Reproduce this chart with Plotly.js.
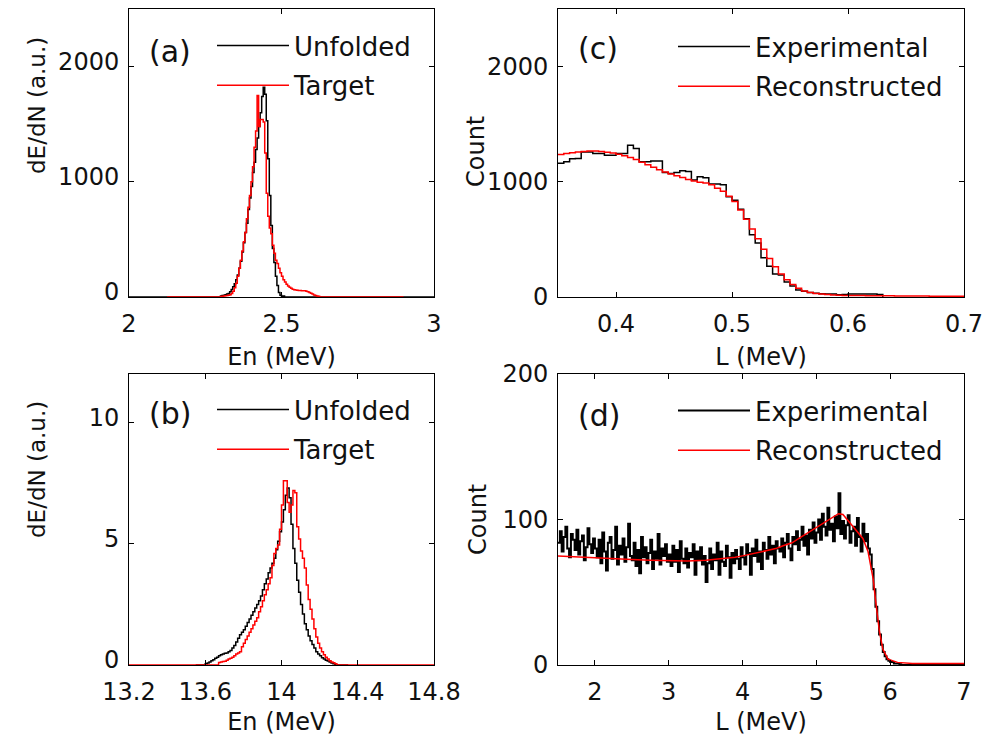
<!DOCTYPE html>
<html><head><meta charset="utf-8">
<script src="https://cdn.plot.ly/plotly-3.0.1.min.js"></script>
<style>html,body{margin:0;padding:0;background:#fff}#chart{width:996px;height:736px}</style>
</head><body><div id="chart"></div>
<script>
// ---------------- DATA ----------------
// (a) En around 2.45 MeV, bins of 0.005 MeV
const aBinStart = 2.300, aBinWidth = 0.005;
const aUnfolded = [8,12,15,20,25,30,45,65,90,115,150,190,250,310,390,470,560,640,760,860,
  960,1080,1170,1280,1380,1480,1600,1740,1821,1760,1530,1200,880,620,420,300,180,100,40,15,5,8];
const aTarget = [5,6,8,10,12,15,20,30,50,80,120,180,250,320,400,480,560,680,780,880,
  1000,1130,1300,1440,1749,1480,1540,1540,1520,1250,900,700,600,550,450,380,320,290,250,210,
  180,150,130,110,95,85,75,68,62,60,58,57,56,55,55,54,50,45,38,32,25,18,12,8,6];
const aUnfoldedSpan = [2.0, 3.0];
const aTargetSpan = [2.125, 2.9];

// (b) En around 14 MeV, bins of 0.01 MeV
const bBinWidth = 0.01;
const bUnfoldedStart = 13.60;
const bUnfolded = [0.05,0.08,0.12,0.18,0.22,0.28,0.32,0.38,0.42,0.45,
  0.48,0.5,0.55,0.6,0.7,0.8,0.95,1.1,1.25,1.35,
  1.45,1.6,1.75,1.9,2.05,2.2,2.35,2.5,2.65,2.85,
  3.1,3.35,3.55,3.8,4.0,4.2,4.4,4.75,5.1,5.5,
  5.9,6.4,7.0,7.3,6.9,5.8,4.8,4.2,3.5,3.0,
  2.5,2.1,1.7,1.45,1.2,1.0,0.85,0.7,0.55,0.45,
  0.38,0.3,0.25,0.2,0.16,0.12,0.08,0.05,0.02];
const bTargetStart = 13.67;
const bTarget = [0.1,0.12,0.14,0.15,0.2,0.25,0.28,0.32,0.38,0.45,
  0.5,0.55,0.75,0.9,1.05,1.2,1.35,1.5,1.65,1.8,
  1.95,2.2,2.4,2.65,2.9,3.1,3.35,3.6,4.1,4.6,
  4.8,4.95,5.6,6.6,7.6,7.6,6.7,6.3,6.6,7.2,
  7.1,5.7,5.2,4.7,4.4,4.0,3.3,2.7,2.3,1.9,
  1.5,1.15,0.9,0.7,0.55,0.42,0.32,0.25,0.18,0.12,
  0.09,0.05];
const bUnfoldedSpan = [13.55, 14.35];
const bTargetSpan = [13.2, 14.8];

// (c) L spectrum 0.35-0.7 MeV, bins of 0.005 MeV
const cBinStart = 0.350, cBinWidth = 0.005;
const cExperimental = [1162,1173,1200,1202,1259,1259,1245,1245,1231,1231,
  1245,1245,1317,1288,1173,1173,1180,1180,1080,1073,
  1080,1096,1090,1015,1044,1036,981,981,975,870,
  840,761,680,541,469,340,267,200,190,130,
  95,60,50,40,32,28,25,25,20,22,
  25,25,25,25,25,22];
const cReconstructed = [1236,1245,1252,1258,1263,1267,1268,1264,1257,1249,
  1240,1226,1210,1193,1170,1147,1126,1105,1085,1068,
  1052,1037,1021,1008,997,989,975,945,918,875,
  830,755,675,590,505,415,335,262,200,150,
  108,75,52,40,31,26,21,18,16,14,
  13,12,12,11,11,10,10,10,9,9,
  9,8,8,8,7,7,7,6,6,6];

// (d) L spectrum 1.5-7 MeV, bins of 0.025 MeV
const dBinStart = 1.5, dBinWidth = 0.025;
const dExperimental = [
  84,92,78,88,95,80,74,90,86,79,93,76,85,89,72,81,94,83,77,87,
  80,74,86,70,91,78,65,84,88,73,79,95,69,82,76,87,71,81,97,75,
  72,84,68,79,63,88,74,81,70,77,86,66,78,73,90,69,80,75,83,71,
  76,68,82,71,79,64,85,73,70,80,67,77,74,83,62,78,72,81,69,75,
  57,70,80,66,76,72,84,62,78,71,68,82,74,60,77,70,79,73,66,81,
  74,69,83,77,62,80,75,86,71,78,66,84,79,73,88,76,82,70,85,80,
  78,87,74,84,90,80,72,88,83,92,79,86,95,82,89,76,93,87,98,84,
  91,100,86,104,95,89,108,93,97,85,102,94,118,90,99,87,96,103,84,92,
  95,82,101,88,78,97,85,90,80,76,66,52,40,30,21,14,9,6,4,3,
  2,2,1,1,1,0.5,0,0];
const dExperimentalSpan = [1.5, 7.0];
const dRecL = [1.5,1.75,2.0,2.25,2.5,2.75,3.0,3.25,3.5,3.75,
  3.9,4.0,4.1,4.22,4.35,4.45,4.55,4.67,4.78,4.89,
  5.0,5.12,5.22,5.3,5.36,5.45,5.55,5.63,5.7,5.77,
  5.81,5.855,5.9,5.97,6.1,6.3,7.0];
const dRecCount = [75,74.5,74,73.5,72.5,72,71.5,71.5,72,73,
  74,75,76,77.5,79,80,82,84,87.5,91,
  94.5,98,101,104,103.5,98,92,87,78,59,
  41,23,11,4,1.8,1,1];

// ---------------- HELPERS ----------------
const W = 996, H = 736;
const px = v => v / W;
const py = v => 1 - v / H;

function stepXY(start, width, vals, span) {
  const x = [], y = [];
  if (span && span[0] < start) { x.push(span[0]); y.push(0); }
  vals.forEach((v, i) => { x.push(+(start + i * width).toFixed(5)); y.push(v); });
  const end = +(start + vals.length * width).toFixed(5);
  x.push(end); y.push(0);
  if (span && span[1] > end) { x.push(span[1]); y.push(0); }
  return {x, y};
}

const BLACK = '#000000', RED = '#ff0000';
function stepTrace(xy, name, color, xa, ya, leg, grp, w) {
  return {type: 'scatter', mode: 'lines', x: xy.x, y: xy.y, name: name,
    line: {color: color, width: w || 1.5, shape: 'hv'}, xaxis: xa, yaxis: ya,
    legend: leg, legendgroup: grp, hoverinfo: 'skip'};
}

const aU = stepXY(aBinStart, aBinWidth, aUnfolded, aUnfoldedSpan);
const aT = stepXY(aBinStart, aBinWidth, aTarget, aTargetSpan);
const bU = stepXY(bUnfoldedStart, bBinWidth, bUnfolded, bUnfoldedSpan);
const bT = stepXY(bTargetStart, bBinWidth, bTarget, bTargetSpan);
const cE = stepXY(cBinStart, cBinWidth, cExperimental, null);
const cR = stepXY(cBinStart, cBinWidth, cReconstructed, null);
const dE = stepXY(dBinStart, dBinWidth, dExperimental, dExperimentalSpan);

const traces = [
  stepTrace(aU, 'Unfolded', BLACK, 'x', 'y', 'legend', 'a1'),
  stepTrace(aT, 'Target', RED, 'x', 'y', 'legend', 'a2'),
  stepTrace(cE, 'Experimental', BLACK, 'x2', 'y2', 'legend2', 'c1'),
  stepTrace(cR, 'Reconstructed', RED, 'x2', 'y2', 'legend2', 'c2'),
  stepTrace(bU, 'Unfolded', BLACK, 'x3', 'y3', 'legend3', 'b1'),
  stepTrace(bT, 'Target', RED, 'x3', 'y3', 'legend3', 'b2'),
  stepTrace(dE, 'Experimental', BLACK, 'x4', 'y4', 'legend4', 'd1', 2),
  {type: 'scatter', mode: 'lines', x: dRecL, y: dRecCount, name: 'Reconstructed',
   line: {color: RED, width: 1.5}, xaxis: 'x4', yaxis: 'y4', legend: 'legend4',
   legendgroup: 'd2', hoverinfo: 'skip'}
];

const FONT = 'DejaVu Sans, sans-serif';
const TXT = '#111111';
function axis(extra) {
  return Object.assign({
    showline: true, linecolor: '#000', linewidth: 1, mirror: 'allticks',
    ticks: 'inside', ticklen: 5, tickcolor: '#000', tickwidth: 1,
    showgrid: false, zeroline: false, fixedrange: true,
    tickfont: {family: FONT, size: 24, color: TXT}
  }, extra);
}
const xDomL = [px(129), px(434)], xDomR = [px(558), px(964)];
const yDomT = [py(297), py(9)], yDomB = [py(665), py(374)];
const xTitle = t => ({text: t, font: {family: FONT, size: 24, color: TXT}, standoff: 11});

function legendAt(xPix, yPix) {
  return {x: px(xPix), y: py(yPix), xanchor: 'left', yanchor: 'top',
    bgcolor: 'rgba(0,0,0,0)', borderwidth: 0, itemwidth: 72,
    traceorder: 'grouped', tracegroupgap: 3,
    font: {family: FONT, size: 26, color: TXT}, itemclick: false, itemdoubleclick: false};
}

function ann(text, xPix, yPix, size, angle) {
  return {text: text, x: px(xPix), y: py(yPix), xref: 'paper', yref: 'paper',
    xanchor: 'center', yanchor: 'middle', showarrow: false, textangle: angle || 0,
    font: {family: FONT, size: size, color: TXT}};
}

const layout = {
  width: W, height: H, margin: {l: 0, r: 0, t: 0, b: 0},
  paper_bgcolor: '#fff', plot_bgcolor: '#fff', showlegend: true,
  xaxis: axis({domain: xDomL, anchor: 'y', range: [2, 3], tickvals: [2, 2.5, 3], ticktext: ['2', '2.5', '3'], title: xTitle('En (MeV)'), ticklabelstandoff: 5}),
  yaxis: axis({domain: yDomT, anchor: 'x', range: [0, 2500], tickvals: [0, 1000, 2000], ticklabelstandoff: 4, ticklabelshift: -5}),
  xaxis2: axis({domain: xDomR, anchor: 'y2', range: [0.35, 0.7], tickvals: [0.4, 0.5, 0.6, 0.7], ticktext: ['0.4', '0.5', '0.6', '0.7'], title: xTitle('L (MeV)'), ticklabelstandoff: 5}),
  yaxis2: axis({domain: yDomT, anchor: 'x2', range: [0, 2500], tickvals: [0, 1000, 2000], ticklabelstandoff: 4}),
  xaxis3: axis({domain: xDomL, anchor: 'y3', range: [13.2, 14.8], tickvals: [13.2, 13.6, 14, 14.4, 14.8], ticktext: ['13.2', '13.6', '14', '14.4', '14.8'], title: xTitle('En (MeV)'), ticklabelstandoff: 5}),
  yaxis3: axis({domain: yDomB, anchor: 'x3', range: [0, 12], tickvals: [0, 5, 10], ticklabelstandoff: 4, ticklabelshift: -5}),
  xaxis4: axis({domain: xDomR, anchor: 'y4', range: [1.5, 7], tickvals: [2, 3, 4, 5, 6, 7], title: xTitle('L (MeV)'), ticklabelstandoff: 5}),
  yaxis4: axis({domain: yDomB, anchor: 'x4', range: [0, 200], tickvals: [0, 100, 200], ticklabelstandoff: 4}),
  legend: legendAt(212, 22),
  legend2: legendAt(673, 23),
  legend3: legendAt(212, 386),
  legend4: legendAt(673, 387),
  annotations: [
    ann('(a)', 170, 52, 30), ann('(c)', 598, 49, 30),
    ann('(b)', 170, 413, 30), ann('(d)', 599, 416, 30),
    ann('dE/dN (a.u.)', 37, 106, 23, -90), ann('dE/dN (a.u.)', 37, 470, 23, -90),
    ann('Count', 476, 152, 24, -90), ann('Count', 478, 520, 24, -90)
  ]
};

Plotly.newPlot('chart', traces, layout, {staticPlot: true, displayModeBar: false});
</script></body></html>
